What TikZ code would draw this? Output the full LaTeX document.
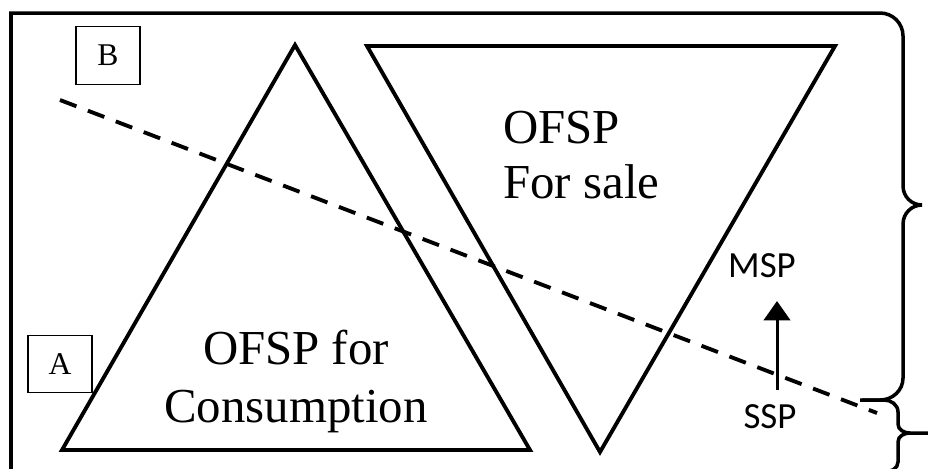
\documentclass[tikz,border=0pt]{standalone}
\usepackage{fontspec}
\setmainfont{Liberation Serif}
\newfontfamily\calibrifont{Carlito}
\usetikzlibrary{arrows.meta}

\begin{document}
\begin{tikzpicture}[x=0.02cm, y=-0.02cm,
        thickline/.style={line width=2.2pt, line join=miter},
        labelbox/.style={draw, line width=0.8pt, minimum width=1.28cm, minimum height=1.15cm, font=\fontsize{18}{21}\selectfont},
        bigtext/.style={font=\fontsize{27.8}{33}\selectfont},
        pricetext/.style={font=\calibrifont\fontsize{21}{24}\selectfont},
        ]
        \useasboundingbox (0,0) rectangle (928,468);

        % corners of the two triangles
        \coordinate (c1) at (62,450);
        \coordinate (c2) at (530,450);
        \coordinate (c3) at (295,45);
        \coordinate (s1) at (367,46);
        \coordinate (s2) at (835,46);
        \coordinate (s3) at (600,452);

        \draw[thickline] (c1) -- (c2) -- (c3) -- cycle;
        \draw[thickline] (s1) -- (s2) -- (s3) -- cycle;

        % frame and braces
        \draw[thickline, line width=2pt] (11,470) -- (11,13) -- (880,13)
                to[out=0, in=90] (903,36) -- (903,186)
                to[out=-90, in=180] (922,205)
                to[out=180, in=90] (903,224) -- (903,378)
                to[out=-90, in=0] (880,400) -- (860,400);
        \draw[thickline, line width=2pt] (862,400) -- (884,400)
                to[out=0, in=90] (898,412) -- (898,424)
                to[out=-90, in=180] (910,433) -- (930,433);
        \draw[thickline, line width=2pt] (910,433)
                to[out=180, in=90] (898,442) -- (898,462)
                to[out=-90, in=0] (884,472);

        % dashed line
        \coordinate (d1) at (60,100);
        \coordinate (d2) at (877,413);
        \draw[line width=2.2pt, dash pattern=on 10pt off 7pt] (d1) -- (d2);

        \node[labelbox] (B) at (108,55.5) {B};
        \node[labelbox] (A) at (60,364) {A};

        \node[bigtext, align=center, anchor=base] (cons) at (296,422) {OFSP for\\Consumption};
        \node[bigtext, align=left, anchor=base west, inner sep=0pt,
              font=\fontsize{27.8}{31}\selectfont] (sale) at (503,198) {OFSP\\For sale};

        \node[pricetext, anchor=base] (msp) at (762,277) {MSP};
        \node[pricetext, anchor=base] (ssp) at (770,428) {SSP};

        \coordinate (a1) at (777,390);
        \coordinate (a2) at (777,301);
        \draw[-{Triangle[width=15pt, length=11pt]}, line width=1.7pt] (a1) -- (a2);

\end{tikzpicture}
\end{document}
